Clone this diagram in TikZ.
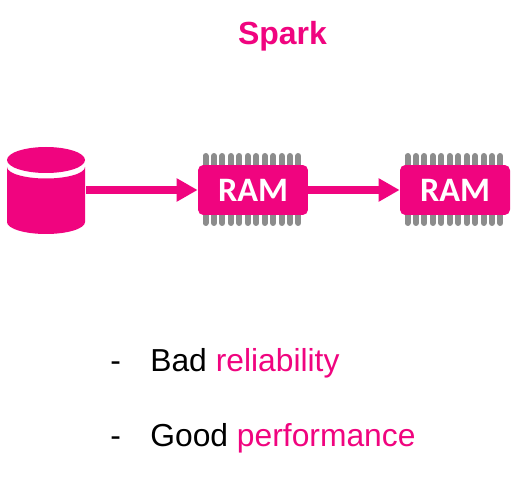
\documentclass[tikz,border=0pt]{standalone}
\usepackage{fontspec}
\setmainfont{Liberation Sans}
\newfontfamily\ramfont{Carlito}
\usetikzlibrary{arrows.meta}
\definecolor{sparkpink}{HTML}{F0047F}
\definecolor{pingray}{HTML}{8C8C8C}
\tikzset{
  ramchip/.style={fill=sparkpink,rounded corners=3pt,minimum width=2.2cm,minimum height=1cm,
    inner sep=0pt,text=white,font=\ramfont\fontsize{19.5}{22}\bfseries\selectfont},
  pin/.style={pingray,line width=0.12cm,line cap=round},
  dataarrow/.style={sparkpink,line width=0.15cm,-{Triangle[length=0.42cm,width=0.44cm]},shorten >=0pt},
  listtext/.style={anchor=base west,inner sep=0pt,font=\fontsize{18.1}{22}\selectfont}
}
\begin{document}
\begin{tikzpicture}[x=0.02cm,y=-0.02cm]
\useasboundingbox (0,0) rectangle (523,489);
\node[anchor=base,inner sep=0pt,text=sparkpink,font=\fontsize{18.2}{22}\bfseries\selectfont] (title) at (282.5,45) {Spark};
% pins first, the chips lie over them
\foreach \chipx in {198,400} {
  \foreach \k in {0,...,11} {
    \draw[pin] ({\chipx+7.5+\k*8.45},156) -- ({\chipx+7.5+\k*8.45},223);
  }
}
\node[ramchip] (ram1) at (253,190) {RAM};
\node[ramchip] (ram2) at (455,190) {RAM};
% database
\node[minimum width=1.56cm,minimum height=1.72cm,inner sep=0pt] (db) at (46,190.5) {};
\fill[sparkpink] (46,160) ellipse [x radius=39,y radius=13];
\fill[sparkpink] (7,167) arc [start angle=180,end angle=360,x radius=39,y radius=-11.5]
   -- (85,222) arc [start angle=0,end angle=-180,x radius=39,y radius=-12] -- cycle;
% arrows
\draw[dataarrow] (db.east |- ram1.west) ++(1,0) coordinate (dbout) -- (ram1.west);
\draw[dataarrow] (ram1.east) -- (ram2.west);
% list
\node[listtext] (dash1) at (110,371) {-};
\node[listtext] (item1) at (150,371) {Bad \textcolor{sparkpink}{reliability}};
\node[listtext] (dash2) at (110,446) {-};
\node[listtext] (item2) at (150,446) {Good \textcolor{sparkpink}{performance}};
\end{tikzpicture}
\end{document}
